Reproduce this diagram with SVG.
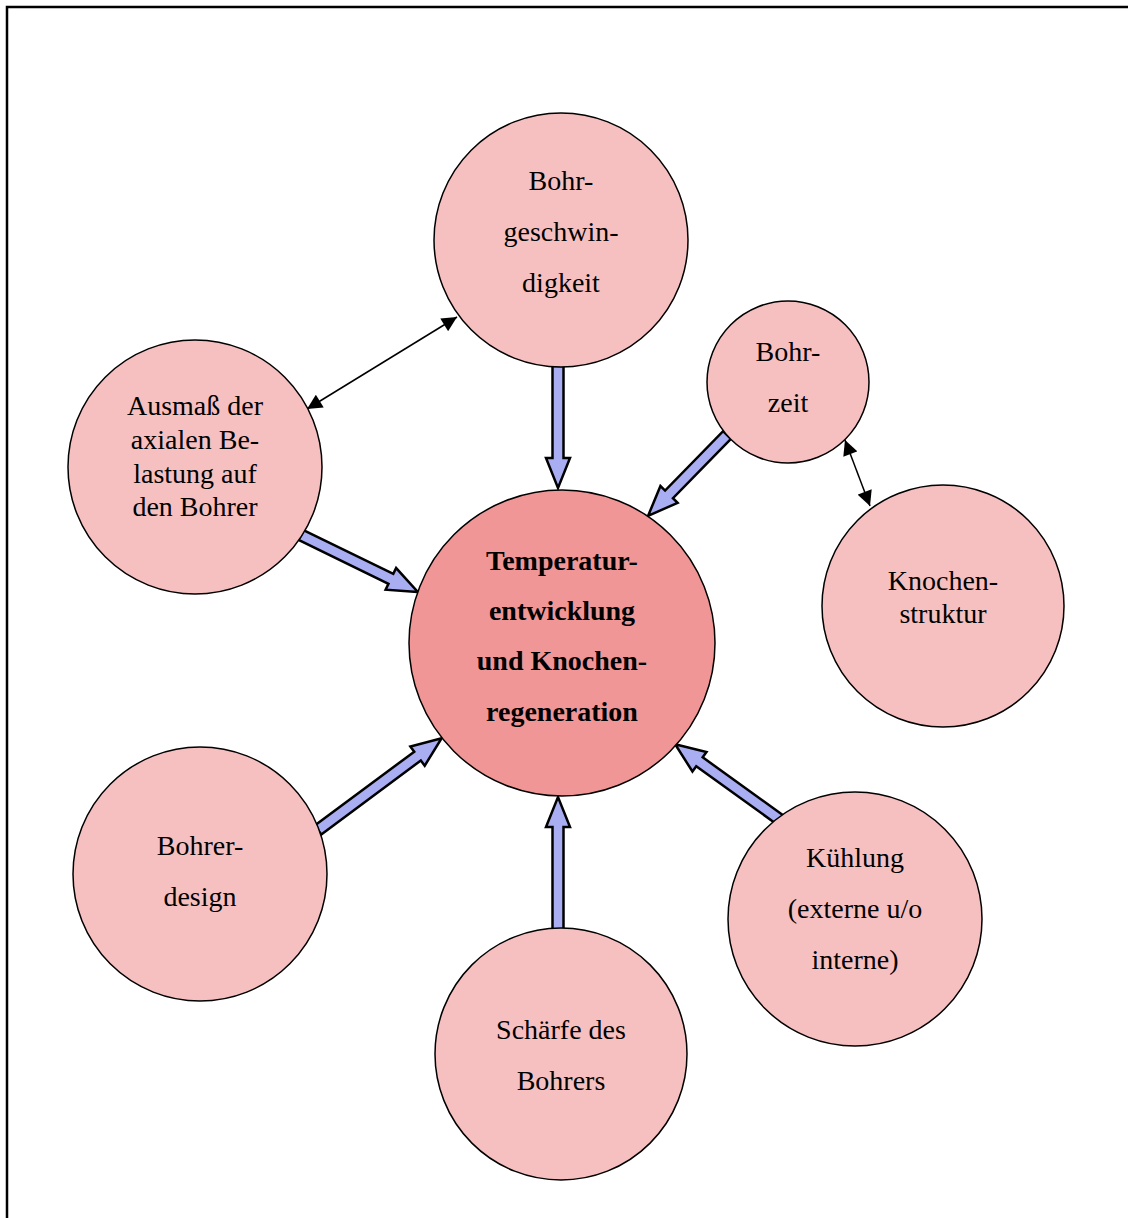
<svg xmlns="http://www.w3.org/2000/svg" width="1128" height="1218" viewBox="0 0 1128 1218">
<style>
.node{fill:#f7c0c0;stroke:#000;stroke-width:1.5}
.main{fill:#f09696;stroke:#000;stroke-width:1.5}
.t{font-family:"Liberation Serif","Times New Roman","DejaVu Serif",serif;font-size:28px;fill:#000;text-anchor:middle}
.b{font-weight:bold;font-size:28px}
.blk{fill:#a9aef2;stroke:#000;stroke-width:2.5;stroke-linejoin:miter}
.thin{stroke:#000;stroke-width:1.5;fill:none;marker-start:url(#ah);marker-end:url(#ah)}
</style>
<defs>
<marker id="ah" viewBox="0 0 10 10" refX="10" refY="5" markerWidth="11" markerHeight="10" orient="auto-start-reverse" markerUnits="strokeWidth">
<path d="M0,0 L10,5 L0,10 Z" fill="#000"/>
</marker>
</defs>
<rect x="7" y="7" width="1140" height="1230" fill="#fff" stroke="#000" stroke-width="2.5"/>
<g id="connectors">
<polygon class="blk" transform="translate(558,366) rotate(90)" points="0,-5.5 92,-5.5 92,-12 122,0 92,12 92,5.5 0,5.5"/>
<polygon class="blk" transform="translate(727,435) rotate(134.3)" points="0,-5.5 83,-5.5 83,-12 113,0 83,12 83,5.5 0,5.5"/>
<polygon class="blk" transform="translate(301,535) rotate(26)" points="0,-5.5 100,-5.5 100,-12 130,0 100,12 100,5.5 0,5.5"/>
<polygon class="blk" transform="translate(318,830) rotate(-36.6)" points="0,-5.5 124,-5.5 124,-12 154,0 124,12 124,5.5 0,5.5"/>
<polygon class="blk" transform="translate(558,930) rotate(-90)" points="0,-5.5 103,-5.5 103,-12 133,0 103,12 103,5.5 0,5.5"/>
<polygon class="blk" transform="translate(783,822) rotate(-144.2)" points="0,-5.5 103,-5.5 103,-12 133,0 103,12 103,5.5 0,5.5"/>
<line class="thin" x1="307" y1="409" x2="457" y2="317"/>
<line class="thin" x1="845" y1="440" x2="870" y2="506"/>
</g>
<g id="n-geschw"><circle class="node" cx="561" cy="240" r="127"/>
<text class="t" x="561" y="190">Bohr-</text><text class="t" x="561" y="241">geschwin-</text><text class="t" x="561" y="292">digkeit</text></g>
<g id="n-zeit"><circle class="node" cx="788" cy="382" r="81"/>
<text class="t" x="788" y="361">Bohr-</text><text class="t" x="788" y="412">zeit</text></g>
<g id="n-ausmass"><circle class="node" cx="195" cy="467" r="127"/>
<text class="t" x="195" y="415">Ausmaß der</text><text class="t" x="195" y="449">axialen Be-</text><text class="t" x="195" y="483">lastung auf</text><text class="t" x="195" y="516">den Bohrer</text></g>
<g id="n-center"><circle class="main" cx="562" cy="643" r="153"/>
<text class="t b" x="562" y="570">Temperatur-</text><text class="t b" x="562" y="620">entwicklung</text><text class="t b" x="562" y="670">und Knochen-</text><text class="t b" x="562" y="721">regeneration</text></g>
<g id="n-knochen"><circle class="node" cx="943" cy="606" r="121"/>
<text class="t" x="943" y="590">Knochen-</text><text class="t" x="943" y="623">struktur</text></g>
<g id="n-design"><circle class="node" cx="200" cy="874" r="127"/>
<text class="t" x="200" y="855">Bohrer-</text><text class="t" x="200" y="906">design</text></g>
<g id="n-kuehl"><circle class="node" cx="855" cy="919" r="127"/>
<text class="t" x="855" y="867">Kühlung</text><text class="t" x="855" y="918">(externe u/o</text><text class="t" x="855" y="969">interne)</text></g>
<g id="n-schaerfe"><circle class="node" cx="561" cy="1054" r="126"/>
<text class="t" x="561" y="1039">Schärfe des</text><text class="t" x="561" y="1090">Bohrers</text></g>
</svg>
